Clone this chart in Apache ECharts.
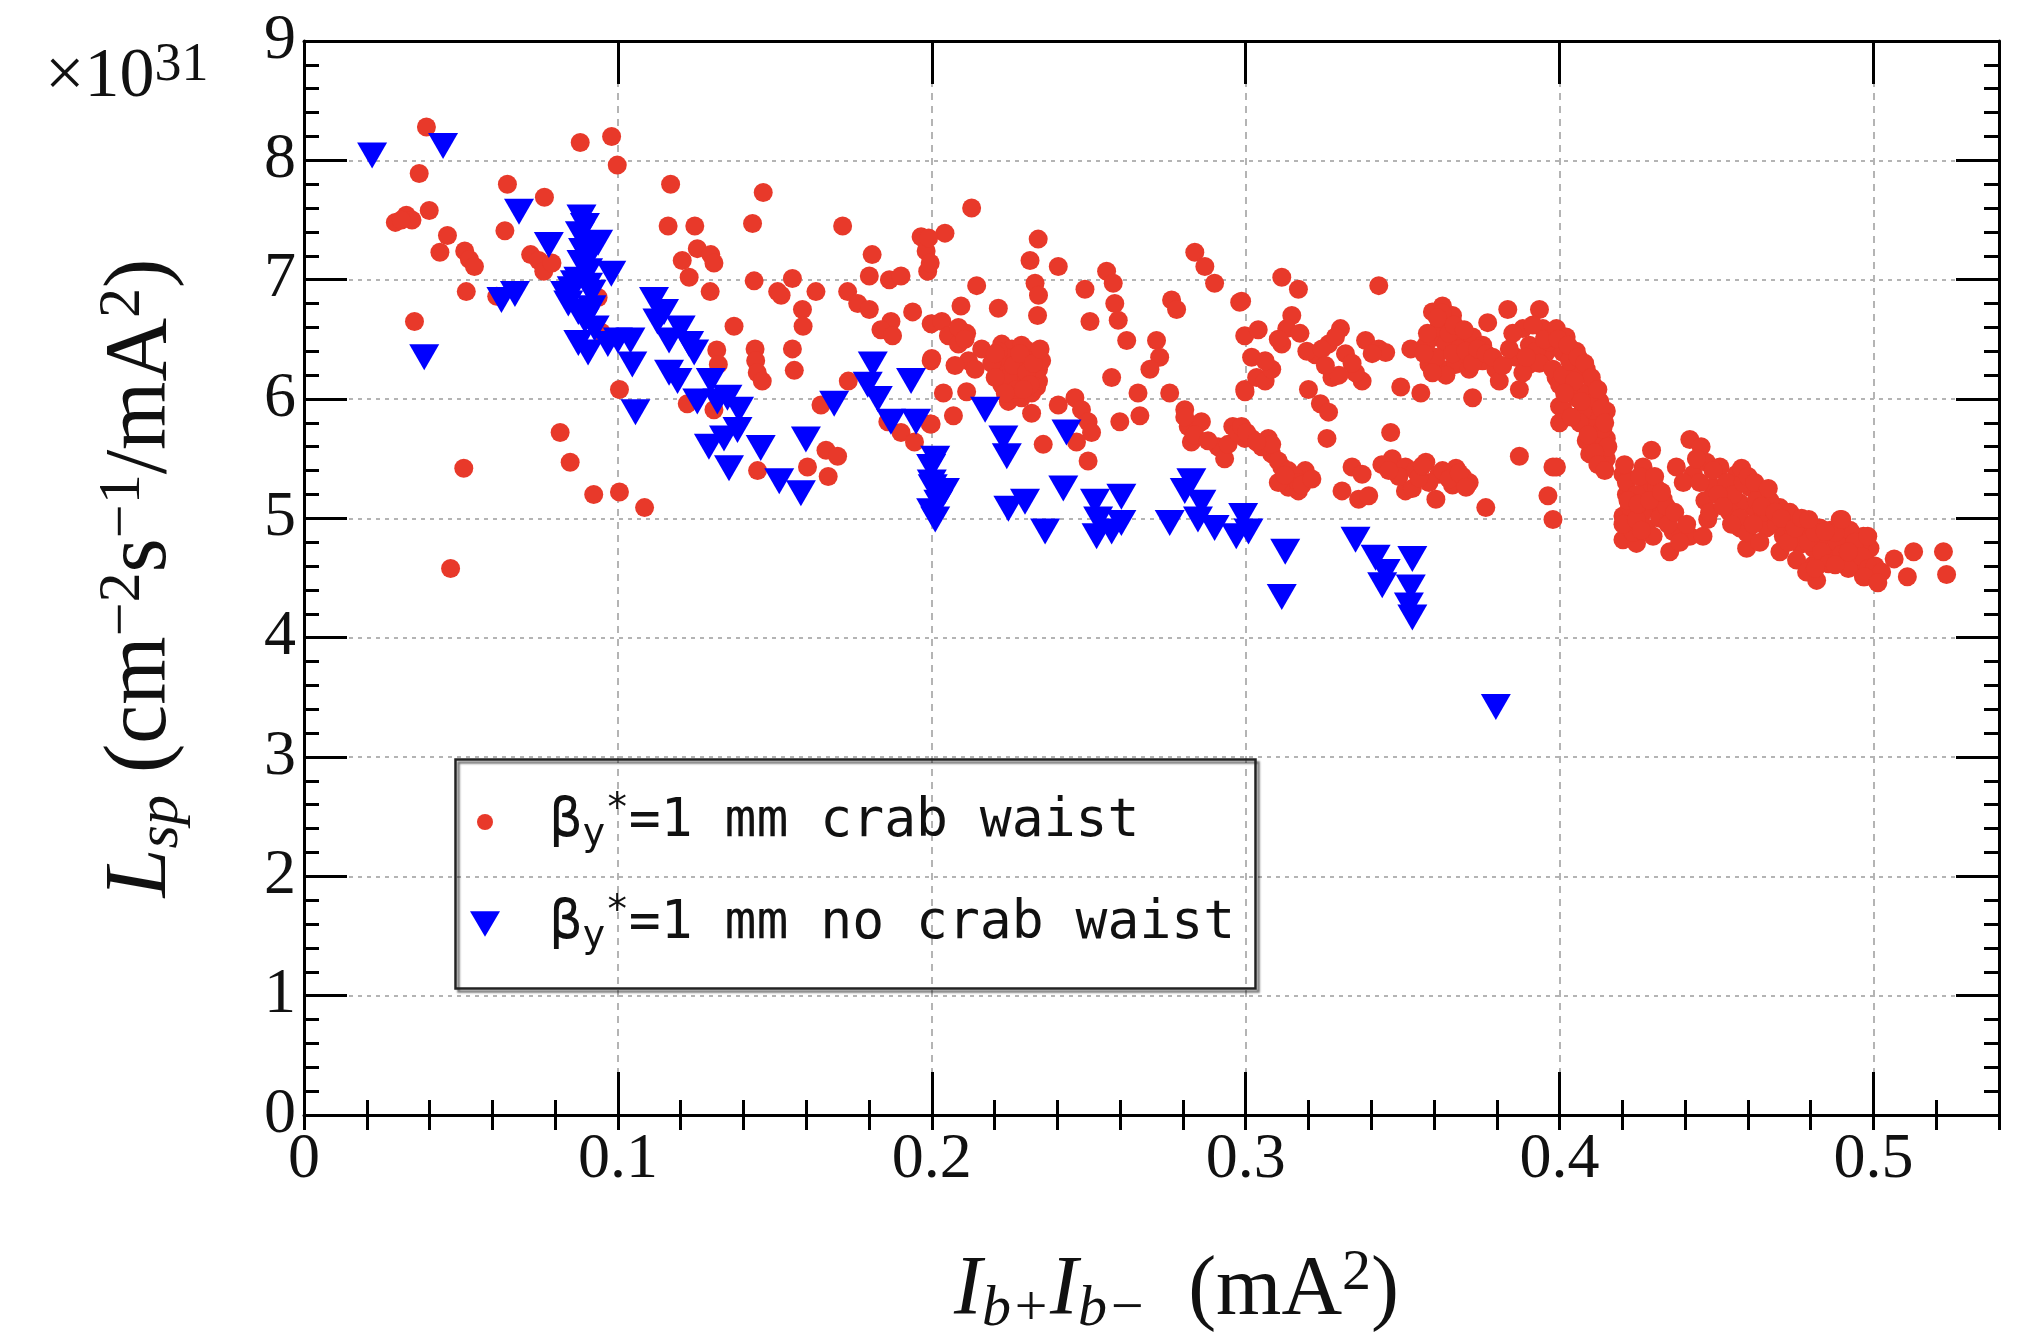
<!DOCTYPE html>
<html>
<head>
<meta charset="utf-8">
<title>Specific luminosity vs bunch current product</title>
<script src="https://cdn.jsdelivr.net/npm/echarts@6/dist/echarts.min.js"></script>
<style>
  html, body { margin: 0; padding: 0; background: #fff; }
  #chart { width: 2029px; height: 1339px; }
</style>
</head>
<body>
<div id="chart"></div>
<script>
// Specific luminosity (units of 1e31 cm^-2 s^-1 / mA^2) against Ib+ * Ib- (mA^2)

const xTicks = ['0', '0.1', '0.2', '0.3', '0.4', '0.5'];
const yTicks = ['0', '1', '2', '3', '4', '5', '6', '7', '8', '9'];

// beta_y* = 1 mm, crab waist on
const crabWaist = [
  [0.039,8.28],[0.088,8.15],[0.098,8.2],[0.0998,7.96],[0.0367,7.89],[0.0648,7.8],[0.0766,7.69],
  [0.0399,7.58],[0.0291,7.48],[0.0326,7.54],[0.0344,7.5],[0.031,7.5],[0.064,7.41],[0.0457,7.37],
  [0.0433,7.23],[0.0512,7.24],[0.0527,7.17],[0.0543,7.11],[0.0722,7.21],[0.0748,7.16],[0.0764,7.07],
  [0.079,7.14],[0.0517,6.9],[0.0352,6.65],[0.0614,6.86],[0.0937,6.85],[0.0947,6.56],[0.1005,6.08],
  [0.0816,5.72],[0.0848,5.47],[0.0509,5.42],[0.0923,5.2],[0.1005,5.22],[0.0467,4.58],
  [0.1168,7.8],[0.1463,7.73],[0.116,7.45],[0.1245,7.45],[0.1429,7.47],[0.1716,7.45],[0.1253,7.26],
  [0.1205,7.16],[0.1296,7.21],[0.1306,7.14],[0.1227,7.02],[0.1294,6.9],[0.1434,6.99],[0.1556,7.01],
  [0.1509,6.9],[0.152,6.87],[0.1631,6.9],[0.1588,6.75],[0.159,6.61],[0.137,6.61],[0.1556,6.42],
  [0.1562,6.24],[0.1315,6.41],[0.132,6.29],[0.1437,6.42],[0.1439,6.32],[0.1444,6.22],[0.146,6.15],
  [0.181,7.21],[0.1801,7.03],[0.1732,6.9],[0.1764,6.8],[0.1801,6.75],[0.1865,7.0],[0.1902,7.03],
  [0.1939,6.73],[0.187,6.65],[0.1838,6.58],[0.1875,6.53],[0.1966,7.36],[0.1982,7.24],[0.1987,7.07],
  [0.1998,6.32],[0.1998,6.63],[0.1734,6.15],[0.1647,5.95],[0.1221,5.96],[0.1306,5.91],[0.1663,5.57],
  [0.17,5.52],[0.1604,5.43],[0.167,5.35],[0.1445,5.4],[0.1085,5.09],[0.186,5.81],[0.1902,5.72],
  [0.1945,5.64],[0.1998,5.79],
  [0.2127,7.6],[0.2042,7.39],[0.199,7.35],[0.1995,7.14],[0.2339,7.34],[0.2313,7.16],[0.2403,7.11],
  [0.2329,6.97],[0.234,6.87],[0.2337,6.7],[0.2143,6.95],[0.2093,6.78],[0.2212,6.76],[0.2488,6.92],
  [0.2504,6.65],[0.2557,7.07],[0.2578,6.97],[0.2583,6.8],[0.2594,6.66],[0.2621,6.49],[0.2838,7.23],
  [0.287,7.11],[0.2901,6.97],[0.2764,6.83],[0.278,6.75],[0.2981,6.81],[0.2716,6.49],[0.2726,6.35],
  [0.2695,6.25],[0.2573,6.18],[0.2758,6.05],[0.2657,6.05],[0.2663,5.86],[0.2599,5.81],
  [0.2032,6.65],[0.2053,6.53],[0.2085,6.46],[0.2111,6.55],[0.2117,6.32],[0.2138,6.25],[0.2159,6.42],
  [0.2,6.34],[0.2074,6.28],[0.2037,6.05],[0.2111,6.06],[0.2069,5.86],[0.1995,5.79],[0.2085,6.6],
  [0.2106,6.5],
  [0.2223,6.46],[0.2255,6.42],[0.2297,6.42],[0.2318,6.39],[0.2212,6.28],[0.2244,6.25],[0.2286,6.28],
  [0.234,6.25],[0.2223,6.12],[0.2265,6.12],[0.2297,6.15],[0.234,6.15],[0.2244,5.98],[0.2286,6.01],
  [0.2318,6.05],[0.2265,6.35],[0.2233,6.35],[0.2308,6.3],[0.2276,6.2],[0.2244,6.18],[0.2329,6.22],
  [0.2255,6.05],[0.235,6.32],[0.2212,6.4],[0.2286,6.45],[0.227,6.08],
  [0.2191,6.3],[0.2202,6.18],[0.2202,6.38],[0.2234,6.05],[0.226,6.28],[0.2281,6.38],[0.2302,6.22],
  [0.2324,6.3],[0.2345,6.42],[0.2334,6.1],[0.2313,6.12],[0.2292,6.08],
  [0.2318,5.88],[0.2355,5.62],[0.2403,5.95],[0.2456,6.01],[0.2477,5.91],[0.2498,5.81],[0.2509,5.72],
  [0.2461,5.64],[0.2498,5.48],[0.2806,5.91],[0.2817,5.77],[0.2859,5.81],[0.2827,5.64],[0.2912,5.6],
  [0.2933,5.5],[0.2959,5.77],[0.2997,5.67],[0.2997,6.53],[0.2997,6.08],[0.2806,5.85],[0.2838,5.7],
  [0.288,5.65],[0.2944,5.62],[0.2975,5.72],
  [0.3115,7.02],[0.3168,6.92],[0.3424,6.95],[0.2987,6.82],[0.304,6.58],[0.3019,6.35],[0.3035,6.18],
  [0.2998,6.06],[0.3062,6.15],[0.3115,6.46],[0.3147,6.7],[0.3131,6.59],[0.3222,6.37],[0.3264,6.46],
  [0.3302,6.59],[0.3275,6.18],[0.3371,6.15],[0.335,6.22],[0.3382,6.49],[0.3424,6.42],[0.3446,6.39],
  [0.32,6.08],[0.3238,5.96],[0.3264,5.89],[0.3259,5.67],[0.3494,6.1],[0.3526,6.42],[0.3558,6.05],
  [0.3595,6.73],[0.3627,6.78],[0.3659,6.7],[0.3606,6.52],[0.3638,6.46],[0.3691,6.49],[0.3723,6.52],
  [0.3584,6.29],[0.3627,6.25],[0.3669,6.29],[0.3712,6.25],[0.3755,6.32],[0.3797,6.25],[0.3808,6.15],
  [0.3723,6.01],[0.3771,6.64],[0.3835,6.75],[0.3883,6.59],[0.3872,6.08],[0.3936,6.75],[0.3947,6.59],
  [0.3861,6.35],[0.3904,6.29],[0.3957,6.39],[0.3989,6.18],[0.4,5.94],
  [0.3616,6.6],[0.3648,6.55],[0.368,6.42],[0.3606,6.35],[0.3659,6.38],[0.3702,6.4],[0.3574,6.45],
  [0.3723,6.3],[0.3755,6.45],[0.3638,6.2],[0.3595,6.22],[0.3904,6.45],[0.3925,6.4],[0.3883,6.22],
  [0.3936,6.3],[0.3968,6.48],[0.3979,6.25],[0.3083,6.25],[0.3062,6.32],[0.3104,6.5],[0.3403,6.38],
  [0.3626,6.72],
  [0.3568,6.38],[0.3579,6.55],[0.3611,6.68],[0.3664,6.62],[0.3696,6.58],[0.3739,6.42],[0.3766,6.38],
  [0.3787,6.35],[0.3819,6.28],[0.384,6.42],[0.3851,6.55],[0.3894,6.35],[0.3915,6.62],[0.3952,6.5],
  [0.3173,6.55],[0.3195,6.4],[0.3243,6.42],[0.3286,6.52],[0.3318,6.38],[0.3339,6.3],[0.3297,6.2],
  [0.3254,6.28],
  [0.2987,5.77],[0.3019,5.67],[0.3072,5.67],[0.3083,5.54],[0.3115,5.43],[0.3136,5.26],[0.319,5.4],
  [0.3168,5.23],[0.3104,5.3],[0.3462,5.72],[0.3467,5.5],[0.3509,5.43],[0.3574,5.47],[0.3616,5.37],
  [0.367,5.42],[0.3712,5.3],[0.3509,5.23],[0.3606,5.16],[0.3339,5.43],[0.3371,5.37],[0.3307,5.23],
  [0.336,5.16],[0.3392,5.19],[0.3765,5.09],[0.3872,5.52],[0.3979,5.43],[0.3963,5.19],[0.3979,4.99],
  [0.3051,5.6],[0.3083,5.62],[0.3104,5.48],[0.3136,5.4],[0.3157,5.35],[0.3168,5.3],[0.3488,5.35],
  [0.3541,5.4],[0.3584,5.3],[0.3627,5.4],[0.3691,5.35],[0.3531,5.25],[0.3659,5.28],
  [0.3003,5.72],[0.3035,5.64],[0.3125,5.36],[0.3179,5.28],[0.3211,5.33],[0.3434,5.45],[0.3456,5.4],
  [0.3552,5.34],[0.3563,5.44],[0.3648,5.33],[0.368,5.38],[0.3702,5.26],
  [0.399,6.59],[0.4021,6.52],[0.4011,6.39],[0.4043,6.29],[0.4085,6.25],[0.4106,6.12],[0.4128,5.98],
  [0.4138,5.84],[0.4085,5.77],[0.4106,5.67],[0.4149,5.67],[0.4096,5.54],[0.4149,5.5],[0.4,6.12],
  [0.4011,5.91],[0.4053,6.01],[0.399,5.43],
  [0.4011,6.2],[0.4043,6.1],[0.4064,6.2],[0.4085,6.05],[0.4096,5.95],[0.4117,5.85],[0.4074,5.9],
  [0.4106,5.75],[0.4128,5.6],[0.4085,5.65],[0.4138,5.75],[0.4053,6.4],[0.4032,6.32],[0.4149,5.9],
  [0.4117,6.0],[0.4064,5.8],
  [0.3995,6.5],[0.4027,6.45],[0.4059,6.35],[0.408,6.3],[0.4101,6.18],[0.4122,6.08],[0.4133,5.92],
  [0.4144,5.8],[0.4154,5.6],[0.4112,5.55],[0.4091,5.7],[0.4069,5.98],[0.4048,6.15],[0.4016,6.05],
  [0.4,5.8],[0.4037,5.85],[0.4122,5.45],[0.4144,5.4],
  [0.4202,5.37],[0.4213,5.2],[0.4202,5.02],[0.4202,4.82],[0.4245,4.79],[0.4234,4.96],[0.4266,5.43],
  [0.4277,5.26],[0.4293,5.57],[0.4298,5.09],[0.433,5.16],[0.4351,5.02],[0.4362,4.89],[0.4351,4.72],
  [0.4415,4.85],[0.4457,4.85],[0.4472,4.99],[0.4415,5.66],[0.4451,5.6],[0.4372,5.43],[0.4426,5.37],
  [0.4468,5.47],[0.4511,5.43],[0.4489,5.26],[0.4532,5.23],[0.4564,5.37],[0.4606,5.26],[0.4638,5.23],
  [0.4617,5.09],[0.4574,5.13],[0.4574,4.92],[0.4596,4.75],[0.466,4.92],[0.4702,5.09],[0.4723,4.96],
  [0.4702,4.72],[0.4755,4.99],[0.4787,4.85],[0.4809,4.61],[0.4819,4.48],[0.483,4.92],[0.4872,4.68],
  [0.4894,4.99],[0.4915,4.79],[0.4947,4.61],[0.4968,4.85],[0.4989,4.75],[0.4968,4.51],[0.501,4.48],
  [0.4213,5.3],[0.4223,5.1],[0.4245,5.2],[0.4255,5.35],[0.4266,5.05],[0.4277,4.92],[0.4234,4.88],
  [0.4309,5.25],[0.4319,5.0],[0.434,5.1],[0.4298,4.85],[0.4202,4.95],[0.4245,4.99],
  [0.4207,5.45],[0.4218,5.15],[0.425,5.12],[0.4261,4.9],[0.4287,5.15],[0.4303,5.35],[0.4325,5.22],
  [0.4346,4.95],[0.4367,5.05],[0.4383,4.8],[0.4394,5.3],[0.4405,4.95],[0.4436,5.5],[0.4447,5.3],
  [0.4463,5.15],[0.4478,5.05],
  [0.4489,5.4],[0.4532,5.3],[0.4553,5.2],[0.4585,5.3],[0.4627,5.15],[0.4649,5.05],[0.467,5.15],
  [0.4691,4.95],[0.4713,4.85],[0.4734,5.05],[0.4745,4.9],[0.4766,4.78],[0.4798,4.95],[0.4809,4.75],
  [0.483,4.82],[0.4851,4.7],[0.4862,4.9],[0.4883,4.8],[0.4904,4.65],[0.4925,4.9],[0.4936,4.7],
  [0.4957,4.78],[0.4978,4.62],[0.4542,5.05],[0.4574,5.0],[0.4596,4.88],[0.4617,4.95],[0.4638,4.8],
  [0.4755,4.65],[0.4787,4.55],
  [0.4505,5.2],[0.4521,5.1],[0.4548,4.95],[0.458,5.42],[0.4601,5.35],[0.4622,5.3],[0.4643,5.1],
  [0.4665,5.25],[0.4686,5.05],[0.4707,5.0],[0.4729,4.8],[0.475,4.92],[0.4771,5.0],[0.4793,4.8],
  [0.4814,4.88],[0.4835,4.72],[0.4857,4.62],[0.4878,4.88],[0.4899,4.7],[0.492,4.58],[0.4941,4.8],
  [0.4963,4.68],[0.4984,4.58],[0.5005,4.6],[0.5026,4.55],
  [0.4794,4.99],[0.4846,4.89],[0.4899,4.99],[0.4815,4.58],[0.4878,4.61],[0.492,4.72],[0.4982,4.85],
  [0.4972,4.51],[0.5014,4.46],[0.5066,4.66],[0.5108,4.51],[0.5128,4.72],[0.5223,4.72],[0.5233,4.53]
];

// beta_y* = 1 mm, no crab waist
const noCrabWaist = [
  [0.0217,8.04],[0.0443,8.12],[0.0383,6.35],[0.0685,7.57],[0.078,7.29],[0.0629,6.83],[0.0672,6.88],
  [0.0979,7.05],
  [0.0884,7.52],[0.0879,7.38],[0.0889,7.24],[0.0884,7.14],[0.0905,7.07],[0.0832,6.88],[0.0842,6.8],
  [0.0874,6.73],[0.0895,6.66],[0.0916,6.76],[0.0905,6.39],[0.0874,6.47],[0.0937,7.31],[0.0916,6.89],
  [0.0863,6.97],[0.0926,6.59],[0.0895,7.45],[0.0905,7.18],[0.0874,7.0],[0.0905,6.95],[0.0916,7.3],
  [0.0853,6.92],[0.0968,6.46],[0.1,6.49],
  [0.104,6.49],[0.1046,6.29],[0.1056,5.89],[0.1115,6.83],[0.1147,6.73],[0.1126,6.65],[0.1163,6.49],
  [0.12,6.59],[0.1227,6.46],[0.1243,6.39],[0.1163,6.22],[0.119,6.15],[0.1253,5.98],[0.1296,6.15],
  [0.1317,5.98],[0.1349,6.01],[0.1386,5.91],[0.1381,5.74],[0.1338,5.67],[0.129,5.6],[0.1354,5.42],
  [0.1455,5.59],[0.1514,5.31],[0.1583,5.21],[0.1599,5.66],[0.1689,5.96],[0.1812,6.29],[0.1796,6.12],
  [0.1828,6.0],[0.187,5.81],[0.1934,6.15],[0.195,5.81],[0.1998,5.43],[0.2003,5.26],[0.1998,5.06],
  [0.217,5.91],[0.2228,5.67],[0.2239,5.52],[0.2244,5.08],[0.2297,5.14],[0.2361,4.89],[0.2419,5.25],
  [0.2429,5.72],[0.252,5.14],[0.253,4.99],[0.2525,4.85],[0.2604,5.18],[0.2604,4.96],[0.2573,4.89],
  [0.2758,4.96],[0.2827,5.31],[0.2806,5.23],[0.2859,5.13],[0.2848,4.99],[0.2901,4.92],[0.297,4.85],
  [0.2992,5.02],[0.2011,5.5],[0.2,5.3],[0.2021,5.13],[0.2011,4.99],[0.2042,5.23],
  [0.3009,4.89],[0.3126,4.72],[0.3115,4.34],[0.335,4.82],[0.3414,4.67],[0.3446,4.55],[0.3435,4.44],
  [0.3531,4.66],[0.3526,4.42],[0.352,4.27],[0.3531,4.17],[0.3797,3.42]
];

const serif = '"Liberation Serif", "Times New Roman", serif';
const mono = '"DejaVu Sans Mono", monospace';
const RED = '#e8392a';
const BLUE = '#0000ff';

// rich-text pieces for math-style labels
const mathRich = {
  n:   { fontFamily: serif, fontSize: 88, lineHeight: 98, color: '#111' },
  it:  { fontFamily: serif, fontSize: 88, lineHeight: 98, fontStyle: 'italic', color: '#111' },
  sup: { fontFamily: serif, fontSize: 60, lineHeight: 48, verticalAlign: 'top', color: '#111' },
  sub: { fontFamily: serif, fontSize: 60, lineHeight: 44, verticalAlign: 'bottom', fontStyle: 'italic', color: '#111' }
};
const xNameRich = {
  n:   { fontFamily: serif, fontSize: 84, lineHeight: 94, color: '#111' },
  it:  { fontFamily: serif, fontSize: 84, lineHeight: 94, fontStyle: 'italic', color: '#111' },
  sup: { fontFamily: serif, fontSize: 58, lineHeight: 46, verticalAlign: 'top', color: '#111' },
  sub: { fontFamily: serif, fontSize: 58, lineHeight: 42, verticalAlign: 'bottom', fontStyle: 'italic', color: '#111' }
};
const legendRich = {
  m:   { fontFamily: mono, fontSize: 53, lineHeight: 64, color: '#111' },
  sub: { fontFamily: mono, fontSize: 39, lineHeight: 36, verticalAlign: 'bottom', color: '#111' },
  sup: { fontFamily: mono, fontSize: 39, lineHeight: 30, verticalAlign: 'top', color: '#111' }
};

const NAME_CW = 'βy*=1 mm crab waist';
const NAME_NCW = 'βy*=1 mm no crab waist';
const legendLabel = function (name) {
  const tail = name === NAME_CW ? '=1 mm crab waist' : '=1 mm no crab waist';
  return '{m|β}{sub|y}{sup|*}{m|' + tail + '}';
};

const gridLineColor = '#b4b4b4';
const tickStyle = { color: '#000', width: 3 };

function xAxisPair(pos, showLabel) {
  const common = {
    type: 'value', position: pos, min: 0, max: 0.54,
    axisPointer: { show: false }
  };
  return [
    Object.assign({}, common, {
      interval: 0.1,
      axisLine: { show: true, onZero: false, lineStyle: { color: '#000', width: 3 } },
      axisTick: { show: true, inside: true, length: 43, lineStyle: tickStyle },
      axisLabel: {
        show: showLabel, margin: 13, showMaxLabel: false,
        fontFamily: serif, fontSize: 64, color: '#111',
        formatter: function (v) {
          const i = Math.round(v * 10);
          return Math.abs(v * 10 - i) < 1e-6 && i < xTicks.length ? xTicks[i] : '';
        }
      },
      splitLine: showLabel ? { show: true, lineStyle: { color: gridLineColor, width: 2, type: [7, 6] } } : { show: false }
    }),
    Object.assign({}, common, {
      interval: 0.02,
      axisLine: { show: false },
      axisTick: { show: true, inside: true, length: 15, lineStyle: tickStyle },
      axisLabel: { show: false },
      splitLine: { show: false }
    })
  ];
}

const xAxes = xAxisPair('bottom', true).concat(xAxisPair('top', false));
xAxes[0].name = '{it|I}{sub|b+}{it|I}{sub|b−}{n|  (mA}{sup|2}{n|)}';
xAxes[0].nameLocation = 'middle';
xAxes[0].nameGap = 130;
xAxes[0].nameTextStyle = { rich: xNameRich, padding: [0, 0, 0, 50] };

function yAxisDef(pos, showLabel) {
  return {
    type: 'value', position: pos, min: 0, max: 9, interval: 1,
    axisLine: { show: true, onZero: false, lineStyle: { color: '#000', width: 3 } },
    axisTick: { show: true, inside: true, length: 43, lineStyle: tickStyle },
    minorTick: { show: true, splitNumber: 5, length: 15, lineStyle: tickStyle },
    axisLabel: {
      show: showLabel, margin: 8, fontFamily: serif, fontSize: 64, color: '#111',
      formatter: function (v) { return yTicks[Math.round(v)]; }
    },
    splitLine: showLabel ? { show: true, lineStyle: { color: gridLineColor, width: 2, type: [4, 5] } } : { show: false },
    axisPointer: { show: false }
  };
}
const yAxes = [yAxisDef('left', true), yAxisDef('right', false)];
yAxes[0].name = '{it|L}{sub|sp}{n| (cm}{sup|−2}{n|s}{sup|−1}{n|/mA}{sup|2}{n|)}';
yAxes[0].nameLocation = 'middle';
yAxes[0].nameRotate = 90;
yAxes[0].nameGap = 113;
yAxes[0].nameTextStyle = { rich: mathRich, padding: [0, 0, 0, 0] };

const chart = echarts.init(document.getElementById('chart'), null, { renderer: 'canvas' });
chart.setOption({
  backgroundColor: '#ffffff',
  animation: false,
  title: {
    text: '{n|×10}{sup|31}',
    left: 40, top: 34,
    textStyle: {
      fontWeight: 'normal',
      rich: {
        n: { fontFamily: serif, fontSize: 70, lineHeight: 78, fontWeight: 'normal', color: '#111' },
        sup: { fontFamily: serif, fontSize: 54, lineHeight: 34, verticalAlign: 'top', fontWeight: 'normal', color: '#111' }
      }
    }
  },
  grid: { left: 304, right: 30, top: 41, bottom: 224, containLabel: false, outerBoundsMode: 'none' },
  xAxis: xAxes,
  yAxis: yAxes,
  legend: [
    {
      data: [NAME_CW], orient: 'vertical', left: 477, top: 790, padding: 0,
      itemWidth: 16, itemHeight: 16, formatter: legendLabel, icon: 'circle',
      textStyle: { rich: legendRich, padding: [0, 0, 0, 52] },
      selectedMode: false
    },
    {
      data: [NAME_NCW], orient: 'vertical', left: 470, top: 892, padding: 0,
      itemWidth: 30, itemHeight: 26, formatter: legendLabel,
      icon: 'path://M0,0L28,0L14,24Z',
      textStyle: { rich: legendRich, padding: [0, 0, 0, 45] },
      selectedMode: false
    }
  ],
  graphic: [{
    type: 'rect', left: 453, top: 757, z: 100,
    shape: { width: 800, height: 229 },
    style: {
      fill: 'none', stroke: '#222', lineWidth: 2.5,
      shadowColor: 'rgba(0,0,0,0.55)', shadowBlur: 2, shadowOffsetX: 3, shadowOffsetY: 3
    }
  }],
  series: [
    {
      name: NAME_CW, type: 'scatter', xAxisIndex: 0, yAxisIndex: 0,
      data: crabWaist, symbol: 'circle', symbolSize: 19,
      itemStyle: { color: RED, opacity: 1 }
    },
    {
      name: NAME_NCW, type: 'scatter', xAxisIndex: 0, yAxisIndex: 0,
      data: noCrabWaist, symbol: 'triangle', symbolRotate: 180, symbolSize: [30, 26],
      itemStyle: { color: BLUE, opacity: 1 }
    }
  ]
});
</script>
</body>
</html>
